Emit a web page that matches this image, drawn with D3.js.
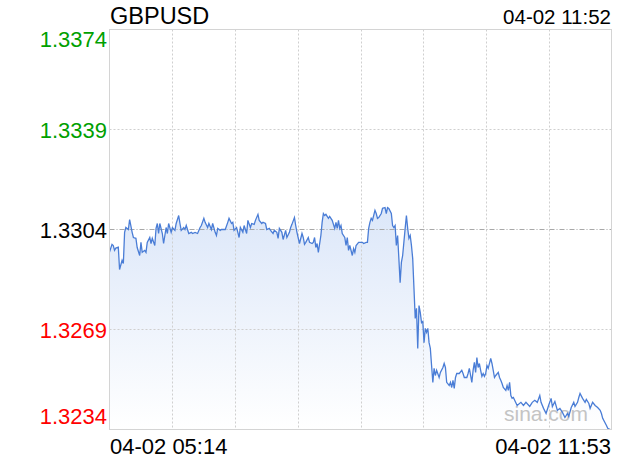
<!DOCTYPE html>
<html><head><meta charset="utf-8">
<script src="https://cdn.jsdelivr.net/npm/d3@7"></script>
<style>body{margin:0;background:#fff}svg{display:block}text{font-family:"Liberation Sans",Arial,sans-serif}</style>
</head><body>
<script>
const title = "GBPUSD";
const stamp = "04-02 11:52";
const xLabels = ["04-02 05:14", "04-02 11:53"];
const totalMinutes = 399;
const prevClose = 1.3304;
const yTicks = [1.3374, 1.3339, 1.3304, 1.3269, 1.3234];
const minutes = [0,2,3,4,5,7,8,10,11,12,13,15,16,18,19,21,22,24,25,26,28,29,30,32,33,34,36,37,38,39,40,42,43,45,46,47,49,50,52,53,55,56,57,59,60,61,63,65,66,68,70,72,73,75,76,
78,79,81,82,84,85,86,88,89,92,94,95,97,98,99,101,102,103,104,106,107,109,110,112,113,115,116,118,119,121,122,124,125,127,128,130,131,133,134,135,137,138,140,141,143,144,145,147,148,149,151,
153,154,155,156,158,159,161,162,163,164,165,166,168,169,170,171,172,174,175,177,179,180,181,182,183,184,185,187,188,189,190,191,193,194,195,196,198,199,201,202,204,205,206,207,208,209,211,212,213,214,216,217,219,220,221,222,224,225,226,227,228,229,230,231,232,233,235,236,237,238,239,240,241,242,243,244,245,246,247,248,249,250,251,252,253,254,255,256,257,258,259,260,262,263,265,266,267,268,270,
271,272,273,274,275,276,278,280,281,282,284,285,286,288,289,290,291,292,293,294,295,296,297,298,299,300,301,303,304,305,306,307,309,310,311,312,313,315,316,317,318,319,320,321,
324,327,329,331,334,336,338,340,342,343,345,347,349,351,352,354,356,358,360,362,364,365,367,369,370,372,373,374,376,378,379,381,382,384,386,388,390,391,392,395,396,398];
const prices = [1.32961,1.32988,1.32984,1.32967,1.32975,1.32978,1.3290,1.32932,1.32921,1.3303,1.33047,1.3304,1.33075,1.3303,1.33012,1.33009,1.32977,1.32949,1.32995,1.3296,1.32967,1.3296,1.32995,1.33012,1.32991,1.33009,1.32984,1.33044,1.33061,1.33026,1.33061,1.33026,1.32991,1.33047,1.33026,1.33061,1.3303,1.33047,1.33037,1.33061,1.33089,1.33061,1.33037,1.33047,1.3304,1.33054,1.33026,1.3303,1.33026,1.3303,1.33026,1.33047,1.33054,1.33079,1.33065,
1.33047,1.33061,1.3304,1.33061,1.3303,1.33019,1.33044,1.33037,1.3304,1.3304,1.33065,1.33079,1.33061,1.33065,1.33037,1.33047,1.3303,1.33012,1.33047,1.3303,1.33054,1.33026,1.33072,1.33047,1.33061,1.33058,1.33072,1.33093,1.33072,1.33061,1.33065,1.33061,1.3304,1.33044,1.33037,1.33026,1.33037,1.3303,1.33009,1.33044,1.3303,1.33005,1.33037,1.33012,1.3303,1.33047,1.33058,1.33082,1.33054,1.3303,1.32991,
1.33026,1.33012,1.32988,1.32995,1.33012,1.32995,1.32991,1.32995,1.33012,1.32977,1.32991,1.3296,1.33019,1.33065,1.33096,1.33089,1.33093,1.33079,1.33086,1.33072,1.33044,1.33065,1.33044,1.33072,1.33044,1.33054,1.33026,1.33012,1.32984,1.33012,1.32967,1.32984,1.32949,1.32973,1.3296,1.32984,1.32995,1.32995,1.32995,1.32991,1.32995,1.32995,1.33044,1.33065,1.33079,1.33072,1.33107,1.33096,1.33079,1.33082,1.33096,1.33114,1.33117,1.33096,1.33117,1.33114,1.33096,1.33054,1.33047,1.33054,1.32984,1.33019,1.32938,1.32854,1.32925,1.32949,1.33044,1.33089,1.33044,1.33009,1.33019,1.32984,1.32938,1.32834,1.32729,1.32764,1.32624,1.32774,1.3275,1.32714,1.32718,1.32644,1.32694,1.3268,1.32694,1.32644,1.32624,1.32564,1.32505,1.32554,1.32529,1.32547,1.32522,1.3254,1.32557,1.32571,1.32557,1.32505,1.32494,
1.32505,1.32487,1.32512,1.32484,1.32522,1.32536,1.32536,1.32547,1.32536,1.32522,1.32522,1.32536,1.32554,1.32505,1.32547,1.32575,1.3254,1.32592,1.32557,1.32571,1.32547,1.32526,1.32536,1.32526,1.32536,1.32564,1.32554,1.32589,1.32571,1.32547,1.32522,1.32529,1.3254,1.32522,1.32512,1.32501,1.32487,1.32477,1.32494,1.32477,1.32505,1.32459,1.32449,1.32452,
1.32424,1.32435,1.32424,1.32435,1.32421,1.32435,1.32442,1.32435,1.32459,1.32435,1.32414,1.32396,1.32424,1.32449,1.3242,1.32438,1.32407,1.32414,1.324,1.32382,1.32396,1.32386,1.32417,1.32435,1.32421,1.32435,1.32452,1.32466,1.32449,1.32435,1.32445,1.32431,1.32414,1.32435,1.32424,1.32417,1.32407,1.32396,1.32379,1.32354,1.32344,1.3234];

const W = 620, H = 460;
const L = 109.5, R = 611.5, T = 29.5, B = 429.5;
const svg = d3.select("body").append("svg").attr("width", W).attr("height", H);
const x = d3.scaleLinear().domain([0, totalMinutes]).range([L, R]);
const y = d3.scaleLinear().domain([yTicks[yTicks.length-1], yTicks[0]]).range([B, T]);
const data = minutes.map((m, i) => ({m, p: prices[i]}));

const defs = svg.append("defs");
const grad = defs.append("linearGradient").attr("id", "fillg")
  .attr("gradientUnits", "userSpaceOnUse").attr("x1", 0).attr("x2", 0)
  .attr("y1", y(d3.max(prices))).attr("y2", B);
grad.append("stop").attr("offset", 0).attr("stop-color", "#dce7f9");
grad.append("stop").attr("offset", 1).attr("stop-color", "#ffffff");
defs.append("clipPath").attr("id", "clip").append("rect")
  .attr("x", L).attr("y", T).attr("width", R - L).attr("height", B - T);

// area fill
svg.append("g").attr("clip-path", "url(#clip)").append("path").datum(data)
  .attr("d", d3.area().x(d => x(d.m)).y0(B).y1(d => y(d.p)))
  .attr("fill", "url(#fillg)");

// vertical grid
const cols = 8;
const vg = d3.range(1, cols).map(i => totalMinutes * i / cols);
svg.append("g").selectAll("line").data(vg).join("line")
  .attr("x1", d => Math.round(x(d)) + 0.5).attr("x2", d => Math.round(x(d)) + 0.5)
  .attr("y1", T).attr("y2", B)
  .attr("stroke", "#cfcfcf").attr("stroke-dasharray", "2,2");
// horizontal grid
svg.append("g").selectAll("line").data(yTicks.slice(1, -1)).join("line")
  .attr("x1", L).attr("x2", R)
  .attr("y1", d => Math.round(y(d)) + 0.5).attr("y2", d => Math.round(y(d)) + 0.5)
  .attr("stroke", d => d === prevClose ? "#a8a8a8" : "#cfcfcf")
  .attr("stroke-dasharray", d => d === prevClose ? "5,2,1,2" : "2,2");

// watermark
svg.append("text").attr("x", 588).attr("y", 421).attr("text-anchor", "end")
  .attr("font-size", 21).attr("fill", "#c4c4c4").text("sina.com");

// price line
svg.append("g").attr("clip-path", "url(#clip)").append("path").datum(data)
  .attr("d", d3.line().x(d => x(d.m)).y(d => y(d.p)))
  .attr("fill", "none").attr("stroke", "#4a7dd6").attr("stroke-width", 1.3);

// border
svg.append("rect").attr("x", L).attr("y", T).attr("width", R - L).attr("height", B - T)
  .attr("fill", "none").attr("stroke", "#d4d4d4");

// y labels
svg.append("g").selectAll("text").data(yTicks).join("text")
  .attr("x", 107).attr("text-anchor", "end").attr("font-size", 22)
  .attr("y", d => Math.max(47, Math.min(424, y(d) + 8)))
  .attr("fill", d => d > prevClose ? "#00a000" : d < prevClose ? "#ff0000" : "#000")
  .text(d => d.toFixed(4));

// x labels
svg.append("text").attr("x", 110).attr("y", 454).attr("font-size", 22).attr("fill", "#000").text(xLabels[0]);
svg.append("text").attr("x", 611).attr("y", 454).attr("text-anchor", "end").attr("font-size", 22).attr("fill", "#000").text(xLabels[1]);

// header
svg.append("text").attr("x", 110).attr("y", 23.5).attr("font-size", 23.5).attr("fill", "#000").text(title);
svg.append("text").attr("x", 611).attr("y", 23.5).attr("text-anchor", "end").attr("font-size", 20.5).attr("fill", "#000").text(stamp);
</script>
</body></html>
